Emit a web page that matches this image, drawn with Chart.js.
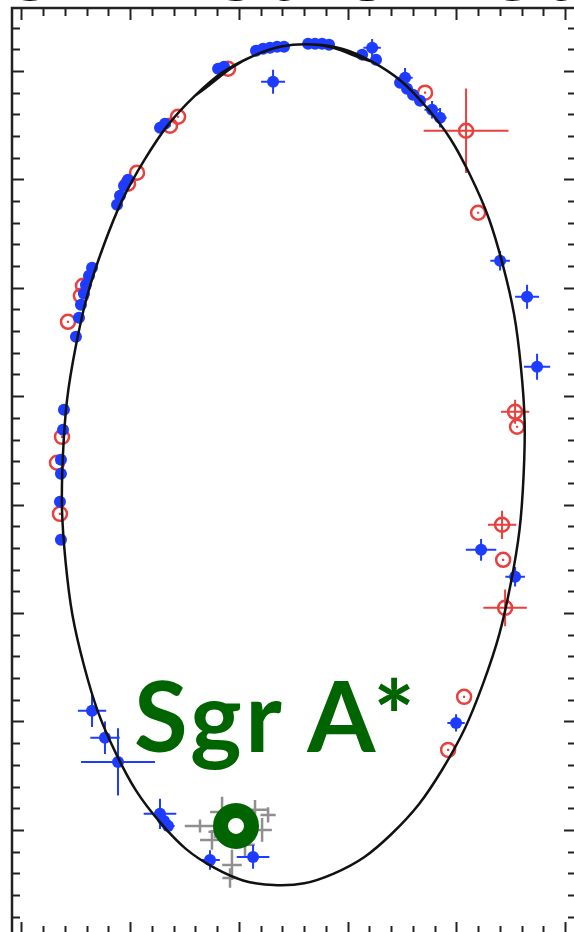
<!DOCTYPE html>
<html>
<head>
<meta charset="utf-8">
<script src="https://cdn.jsdelivr.net/npm/chart.js@4.4.1/dist/chart.umd.min.js"></script>
<style>
  body { margin: 0; background: #fff; overflow: hidden; width: 574px; height: 932px; position: relative; }
  #wrap { position: absolute; left: 0; top: 0; width: 590px; height: 950px; }
  .title { position: absolute; left: 4px; top: -89px; font: bold 100px Lato, sans-serif; line-height: 100px; color: #000; white-space: nowrap; letter-spacing: 2px; }
  .star { position: absolute; left: 134px; top: 665px; font: bold 98px Lato, sans-serif; line-height: 98px; color: #006400; white-space: nowrap; letter-spacing: 3.5px; }
</style>
</head>
<body>
<div id="wrap"><canvas id="orbit" width="590" height="950"></canvas></div>
<div class="title">S2 Astrometry</div>
<div class="star">Sgr A*</div>
<script>
// offsets in mas, one major tick = 10
var blueX = [12.74,13.20,18.08,18.63,21.57,22.22,22.86,23.51,24.15,26.36,27.00,27.65,28.29,32.25,31.33,32.61,23.14,35.28,34.82,35.46,36.01,36.66,37.76,38.50,9.06,9.43,9.80,8.79,6.49,6.21,5.93,5.75,5.47,5.29,5.01,3.91,3.82,3.63,3.63,3.54,3.63,44.02,46.50,47.42,42.27,45.40,39.97,6.49,7.68,8.88,12.74,13.11,13.48,17.34,21.30];
var blueY = [64.76,65.13,70.20,70.39,71.86,72.05,72.14,72.23,72.23,72.51,72.51,72.51,72.42,72.14,71.50,71.03,69.00,69.37,68.91,68.36,67.80,67.25,66.42,65.68,58.49,59.41,59.96,57.66,51.85,51.11,50.28,49.45,48.43,47.23,45.48,38.75,36.90,34.13,32.84,30.26,26.75,52.49,49.17,42.71,25.83,23.34,9.87,10.98,8.49,6.27,1.48,0.83,0.37,-2.77,-2.49];
var blueErrX = [0.4,0.4,0.4,0.4,0.4,0.4,0.4,0.4,0.4,0.4,0.4,0.4,0.4,0.8,0.4,0.4,1.1,0.7,0.4,0.4,0.4,0.4,0.7,0.6,0.4,0.4,0.4,0.4,0.4,0.4,0.4,0.4,0.4,0.4,0.4,0.4,0.4,0.4,0.4,0.4,0.4,0.9,1.1,1.2,1.4,0.9,0.8,1.3,1.35,3.4,1.5,0.6,0.6,0.9,1.5];
var blueErrY = [0.4,0.4,0.4,0.4,0.4,0.4,0.4,0.4,0.4,0.4,0.4,0.4,0.4,0.8,0.4,0.4,1.1,0.9,0.4,0.4,0.4,0.4,0.8,0.9,0.4,0.4,0.4,0.4,0.4,0.4,0.4,0.4,0.4,0.4,0.4,0.4,0.4,0.4,0.4,0.4,0.4,0.9,1.1,1.2,1.0,0.9,0.8,1.5,1.5,3.1,1.4,0.6,0.6,0.9,1.1];

var redX = [19.00,13.66,14.40,10.63,9.80,5.66,5.47,4.28,3.73,3.27,3.54,37.12,40.89,42.00,45.40,45.58,44.20,44.30,44.48,40.71,39.24];
var redY = [70.20,64.94,65.77,60.61,59.59,50.18,49.26,46.86,36.25,33.86,29.15,67.99,64.48,56.92,38.56,37.18,28.14,24.91,20.48,12.27,7.38];
var redErrX = [0.1,0.1,0.1,0.1,0.1,0.1,0.1,0.1,0.1,0.1,0.1,0.1,3.9,0.1,1.3,0.1,1.3,0.1,2.0,0.1,0.1];
var redErrY = [0.1,0.1,0.1,0.1,0.1,0.1,0.1,0.1,0.1,0.1,0.1,0.1,3.9,0.1,1.1,0.1,1.3,0.1,1.7,0.1,0.1];

var grayX = [18.45,16.42,17.52,21.48,22.13,20.56,19.36,19.18,17.80,22.68];
var grayY = [1.66,0.37,-0.92,1.85,0.00,-1.38,-3.23,-4.43,-0.18,1.38];
var grayErrX = [1.1,1.4,1.1,1.1,0.9,0.9,0.9,0.7,0.6,0.7];
var grayErrY = [1.4,0.6,0.9,0.9,1.1,1.1,1.4,0.9,0.6,0.7];

// orbit, closed loop
var orbitX = [15.99,21.28,26.82,32.24,37.17,41.27,44.25,45.93,46.18,44.99,42.43,38.69,34.01,28.72,23.18,17.76,12.83,8.73,5.75,4.07,3.82,5.01,7.57,11.31,15.99,21.28,26.82,32.24];
var orbitY = [67.74,71.37,72.43,70.85,66.74,60.37,52.18,42.73,32.67,22.67,13.42,5.55,-0.40,-4.03,-5.09,-3.51,0.60,6.97,15.16,24.61,34.67,44.67,53.92,61.79,67.74,71.37,72.43,70.85];

var sgrA = [19.73, 0.37];

var xRange = [-0.87, 51.0];
var yRange = [-9.6, 75.8];
var minorStep = 2, majorStep = 10;

function pts(xs, ys) {
  return xs.map(function (x, i) { return { x: x, y: ys[i] }; });
}

var errorBars = {
  id: 'errorBars',
  beforeDatasetDraw: function (chart, args) {
    var ds = chart.data.datasets[args.index];
    if (!ds.errX) return;
    var ctx = chart.ctx, sx = chart.scales.x, sy = chart.scales.y;
    ctx.save();
    ctx.strokeStyle = ds.errColor;
    ctx.lineWidth = ds.errWidth;
    ds.data.forEach(function (p, i) {
      var px = sx.getPixelForValue(p.x), py = sy.getPixelForValue(p.y);
      ctx.beginPath();
      ctx.moveTo(sx.getPixelForValue(p.x - ds.errX[i]), py);
      ctx.lineTo(sx.getPixelForValue(p.x + ds.errX[i]), py);
      ctx.moveTo(px, sy.getPixelForValue(p.y - ds.errY[i]));
      ctx.lineTo(px, sy.getPixelForValue(p.y + ds.errY[i]));
      ctx.stroke();
    });
    ctx.restore();
  }
};

// box with inward ticks on all four sides
var frame = {
  id: 'frame',
  afterDraw: function (chart) {
    var ctx = chart.ctx, a = chart.chartArea, sx = chart.scales.x, sy = chart.scales.y;
    ctx.save();
    ctx.strokeStyle = '#222';
    ctx.lineWidth = 2;
    ctx.beginPath();
    var v, p, len;
    for (v = Math.ceil(xRange[0] / minorStep) * minorStep; v <= xRange[1]; v += minorStep) {
      p = Math.round(sx.getPixelForValue(v)) + 0.5;
      len = (v % majorStep === 0) ? 12 : 8;
      ctx.moveTo(p, a.top); ctx.lineTo(p, a.top + len);
      ctx.moveTo(p, a.bottom); ctx.lineTo(p, a.bottom - len);
    }
    for (v = Math.ceil(yRange[0] / minorStep) * minorStep; v <= yRange[1]; v += minorStep) {
      p = Math.round(sy.getPixelForValue(v)) + 0.5;
      len = (v % majorStep === 0) ? 12 : 8;
      ctx.moveTo(a.left, p); ctx.lineTo(a.left + len, p);
      ctx.moveTo(a.right, p); ctx.lineTo(a.right - len, p);
    }
    ctx.stroke();
    ctx.lineWidth = 2.5;
    ctx.strokeRect(a.left, a.top, a.right - a.left, a.bottom - a.top);
    ctx.restore();
  }
};

var ctx = document.getElementById('orbit').getContext('2d');
var chart = new Chart(ctx, {
  type: 'scatter',
  data: {
    datasets: [
      { label: 'Sgr A*', data: [{ x: sgrA[0], y: sgrA[1] }], pointRadius: 15.5, borderWidth: 15, borderColor: '#006400', backgroundColor: 'rgba(0,0,0,0)' },
      { label: 'orbit', type: 'line', data: pts(orbitX, orbitY), showLine: true, pointRadius: 0, borderColor: '#111', borderWidth: 2.5, tension: 0.4, fill: false },
      { label: 'NACO / SINFONI', data: pts(blueX, blueY), pointRadius: 6, borderWidth: 0, backgroundColor: '#1e3cff',
        errX: blueErrX, errY: blueErrY, errColor: '#1e3cff', errWidth: 2 },
      { label: 'NTT / VLT', data: pts(redX, redY), pointRadius: 7, borderWidth: 2.5, borderColor: '#e8403c', backgroundColor: 'rgba(255,255,255,0)',
        errX: redErrX, errY: redErrY, errColor: '#e8403c', errWidth: 2 },
      { label: 'flares', data: pts(grayX, grayY), pointRadius: 0,
        errX: grayErrX, errY: grayErrY, errColor: '#8f8f8f', errWidth: 2.5 }
    ]
  },
  options: {
    responsive: false,
    animation: false,
    devicePixelRatio: 1,
    layout: { autoPadding: false, padding: { left: 12, top: 8, right: 14, bottom: 16 } },
    scales: {
      x: { type: 'linear', min: xRange[0], max: xRange[1], display: false },
      y: { type: 'linear', min: yRange[0], max: yRange[1], display: false }
    },
    plugins: { legend: { display: false }, tooltip: { enabled: false } }
  },
  plugins: [errorBars, frame]
});
</script>
</body>
</html>
